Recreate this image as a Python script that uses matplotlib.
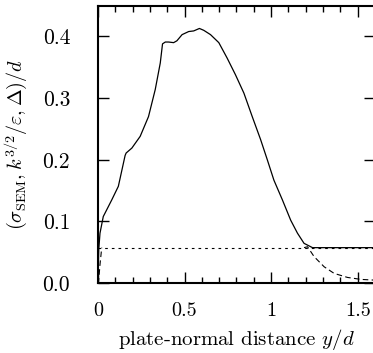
import numpy as np
import matplotlib
matplotlib.use("Agg")
import matplotlib.pyplot as plt
from matplotlib.ticker import MultipleLocator

plt.rcParams['font.family'] = 'serif'
plt.rcParams['font.serif'] = ['cmr10', 'DejaVu Serif']
plt.rcParams['mathtext.fontset'] = 'cm'
plt.rcParams['axes.formatter.use_mathtext'] = True

# sigma_SEM (solid)
sem_y = [0.0, 0.005, 0.012, 0.031, 0.051, 0.08, 0.118, 0.157, 0.163, 0.196, 0.244,
         0.292, 0.331, 0.36, 0.373, 0.389, 0.408, 0.437, 0.456, 0.486, 0.524,
         0.553, 0.586, 0.611, 0.65, 0.698, 0.746, 0.794, 0.843, 0.891, 0.939,
         0.978, 1.016, 1.065, 1.113, 1.152, 1.19, 1.239, 1.4, 1.6]
sem_v = [0.0, 0.055, 0.081, 0.108, 0.119, 0.135, 0.157, 0.207, 0.211, 0.219, 0.238,
         0.270, 0.314, 0.357, 0.388, 0.391, 0.391, 0.390, 0.393, 0.403, 0.408,
         0.409, 0.413, 0.410, 0.403, 0.390, 0.365, 0.338, 0.308, 0.270, 0.233,
         0.200, 0.167, 0.135, 0.102, 0.081, 0.0645, 0.0575, 0.0575, 0.0575]

# k^{3/2}/eps (dotted)
keps_y = [0.0, 1.6]
keps_v = [0.0575, 0.0575]

# Delta (dashed), only visible near the wall and past y/d ~ 1.2
delta_y = [0.0, 0.003, 0.012, 0.022, np.nan, 1.19, 1.21, 1.248, 1.306, 1.364,
           1.441, 1.519, 1.6]
delta_v = [0.0, 0.0, 0.03, 0.0575, np.nan, 0.0575, 0.059, 0.043, 0.0265,
           0.0157, 0.0092, 0.006, 0.0048]

xticks = [0, 0.5, 1, 1.5]
xticklabels = ['0', '0.5', '1', '1.5']
yticks = [0.0, 0.1, 0.2, 0.3, 0.4]
yticklabels = ['0.0', '0.1', '0.2', '0.3', '0.4']

fig = plt.figure(figsize=(3.73, 3.53), dpi=100)
ax = fig.add_axes([0.2625, 0.198, 0.743, 0.786])

ax.plot(keps_y, keps_v, color='black', lw=0.8, ls=(0, (2.4, 3.6)))
ax.plot(delta_y, delta_v, color='black', lw=0.8, ls=(0, (5, 3)))
ax.plot(sem_y, sem_v, color='black', lw=0.9)

ax.set_xlim(0, 1.6)
ax.set_ylim(0, 0.45)
ax.set_xticks(xticks)
ax.set_xticklabels(xticklabels)
ax.set_yticks(yticks)
ax.set_yticklabels(yticklabels)
ax.xaxis.set_minor_locator(MultipleLocator(0.1))

ax.tick_params(which='both', direction='in', top=True, right=True)
ax.tick_params(axis='x', labelsize=14.5)
ax.tick_params(axis='y', labelsize=15.5)
ax.tick_params(which='major', length=8, width=1.0)
ax.tick_params(which='minor', length=4, width=1.0)
ax.tick_params(axis='x', which='both', pad=14)
ax.tick_params(axis='y', which='both', pad=20)
for s in ax.spines.values():
    s.set_linewidth(1.5)

ax.set_xlabel('plate-normal distance $y/d$', fontsize=15, labelpad=5)
ax.set_ylabel(r'$(\sigma_{\mathrm{SEM}}, k^{3/2}/\varepsilon, \Delta)/d$', fontsize=14.5, labelpad=9)

fig.savefig('out.png', dpi=100)
